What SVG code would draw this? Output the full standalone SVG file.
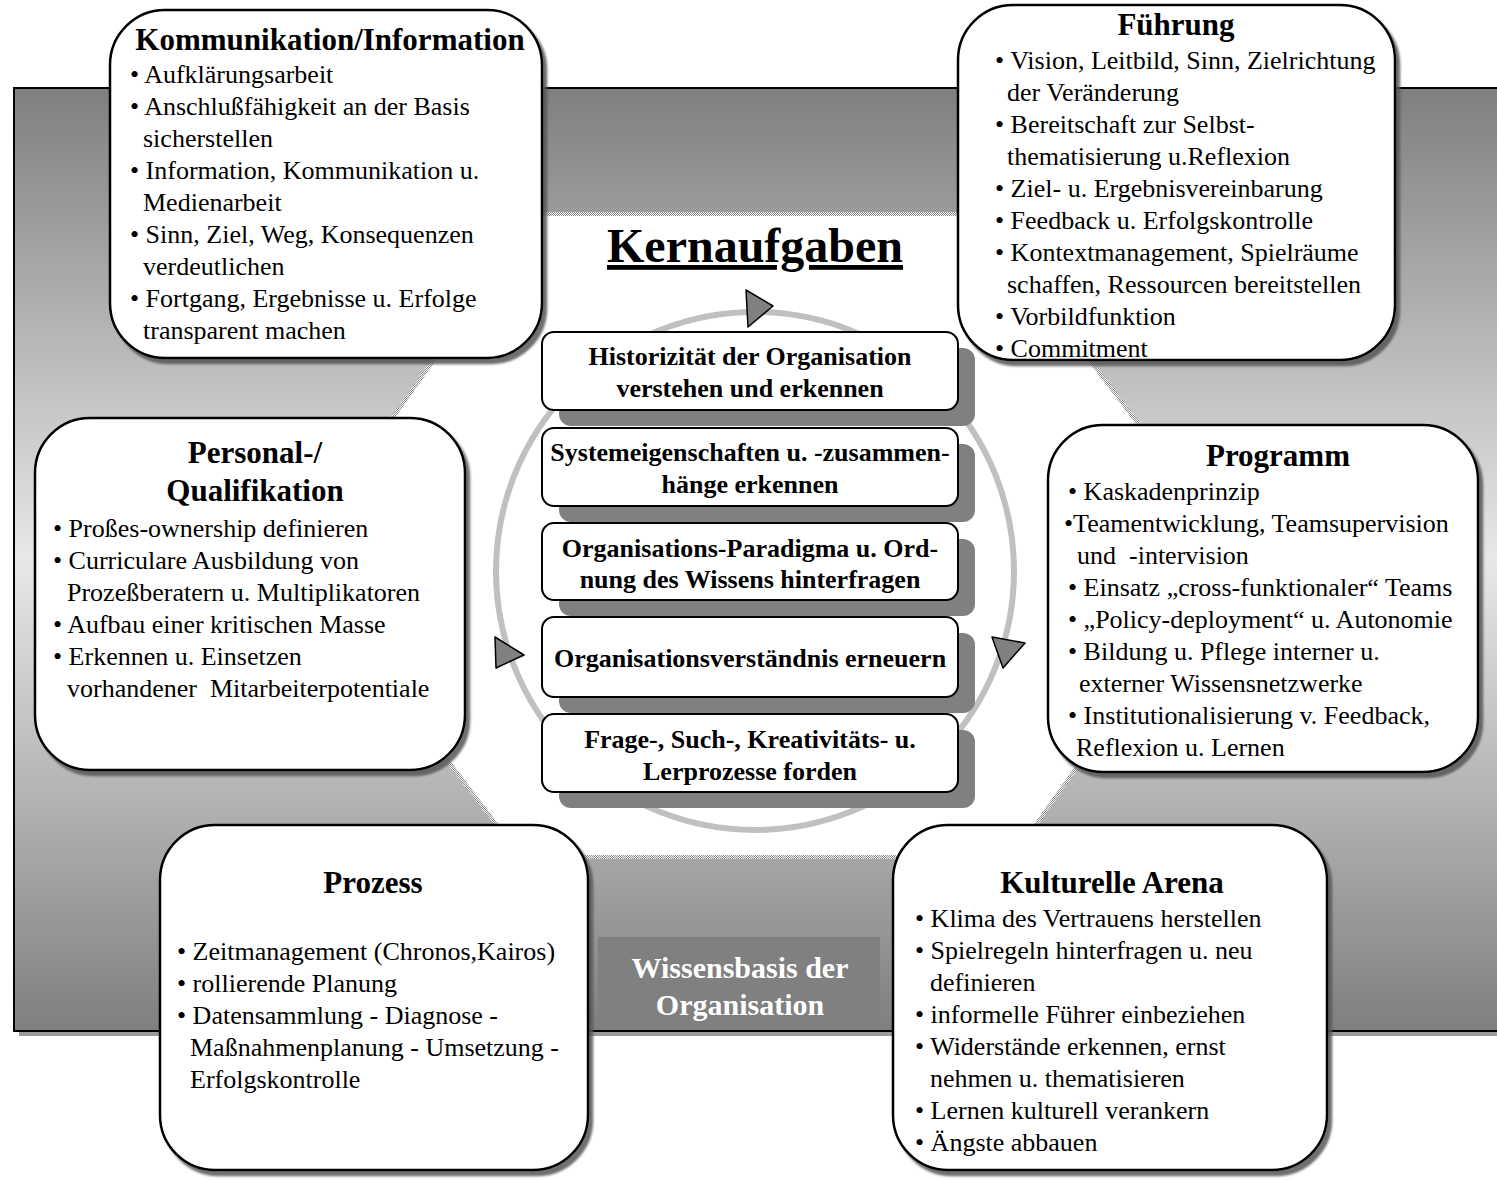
<svg xmlns="http://www.w3.org/2000/svg" width="1497" height="1180" viewBox="0 0 1497 1180">
<defs>
<linearGradient id="bg" x1="0" y1="0" x2="0" y2="1">
<stop offset="0" stop-color="#7f7f7f"/>
<stop offset="0.5" stop-color="#e8e8e8"/>
<stop offset="1" stop-color="#7f7f7f"/>
</linearGradient>
<pattern id="dith" width="2" height="2" patternUnits="userSpaceOnUse">
<rect width="2" height="2" fill="#ffffff"/>
<rect width="1" height="1" fill="#8a8a8a"/>
<rect x="1" y="1" width="1" height="1" fill="#8a8a8a"/>
</pattern>
<filter id="sh" x="-5%" y="-5%" width="115%" height="115%">
<feDropShadow dx="4" dy="5" stdDeviation="1.2" flood-color="#555555" flood-opacity="0.85"/>
</filter>
</defs>
<style>
.box{fill:#ffffff;stroke:#000000;stroke-width:2.5;filter:url(#sh)}
.cbox{fill:#ffffff;stroke:#000000;stroke-width:2}
.cshadow{fill:#808080}
.t{font-family:"Liberation Serif","Times New Roman",serif;font-size:26px;fill:#000000}
.h{font-family:"Liberation Serif","Times New Roman",serif;font-size:31px;font-weight:bold;fill:#000000}
.c{font-family:"Liberation Serif","Times New Roman",serif;font-size:26px;font-weight:bold;fill:#000000;text-anchor:middle}
.tri{fill:#808080;stroke:#000000;stroke-width:1.5;stroke-linejoin:round}
</style>

<g id="background">
<rect x="19" y="93" width="1490" height="943" fill="#9c9c9c"/>
<rect x="14" y="88" width="1490" height="943" fill="url(#bg)" stroke="#000000" stroke-width="2"/>
<polygon points="538,216 978,216 1230,548 1012,855 522,855 296,558" fill="#ffffff" stroke="url(#dith)" stroke-width="8"/>
<polygon points="538,216 978,216 1230,548 1012,855 522,855 296,558" fill="#ffffff"/>
</g>

<g id="wissensbasis">
<rect x="598" y="937" width="282" height="90" fill="#808080"/>
<text x="740" y="978" class="h" style="fill:#ffffff;font-size:30px" text-anchor="middle">Wissensbasis der</text>
<text x="740" y="1015" class="h" style="fill:#ffffff;font-size:30px" text-anchor="middle">Organisation</text>
</g>

<g id="connectors">
<circle cx="755" cy="571" r="259" fill="none" stroke="#c0c0c0" stroke-width="6"/>
<polygon class="tri" points="746,290 773,306 748,327"/>
<polygon class="tri" points="495,637 524,655 496,668"/>
<polygon class="tri" points="992,637 1025,643 1003,668"/>
</g>

<g id="kernaufgaben">
<text x="755" y="262" class="h" style="font-size:48px" text-anchor="middle" text-decoration="underline">Kernaufgaben</text>
</g>

<g id="k1">
<rect class="cshadow" x="559" y="348" width="416" height="78" rx="12"/>
<rect class="cbox" x="542" y="332" width="416" height="78" rx="12"/>
<text class="c" x="750" y="365">Historizität der Organisation</text>
<text class="c" x="750" y="397">verstehen und erkennen</text>
</g>
<g id="k2">
<rect class="cshadow" x="559" y="444" width="416" height="78" rx="12"/>
<rect class="cbox" x="542" y="428" width="416" height="78" rx="12"/>
<text class="c" x="750" y="461">Systemeigenschaften u. -zusammen-</text>
<text class="c" x="750" y="493">hänge erkennen</text>
</g>
<g id="k3">
<rect class="cshadow" x="559" y="539" width="416" height="77" rx="12"/>
<rect class="cbox" x="542" y="523" width="416" height="77" rx="12"/>
<text class="c" x="750" y="557">Organisations-Paradigma u. Ord-</text>
<text class="c" x="750" y="588">nung des Wissens hinterfragen</text>
</g>
<g id="k4">
<rect class="cshadow" x="559" y="633" width="416" height="80" rx="12"/>
<rect class="cbox" x="542" y="617" width="416" height="80" rx="12"/>
<text class="c" x="750" y="667">Organisationsverständnis erneuern</text>
</g>
<g id="k5">
<rect class="cshadow" x="559" y="730" width="416" height="78" rx="12"/>
<rect class="cbox" x="542" y="714" width="416" height="78" rx="12"/>
<text class="c" x="750" y="748">Frage-, Such-, Kreativitäts- u.</text>
<text class="c" x="750" y="780">Lerprozesse forden</text>
</g>

<g id="kommunikation">
<rect class="box" x="110" y="10" width="432" height="348" rx="55"/>
<text class="h" x="330" y="50" text-anchor="middle">Kommunikation/Information</text>
<text class="t" x="130" y="83">• Aufklärungsarbeit</text>
<text class="t" x="130" y="115">• Anschlußfähigkeit an der Basis</text>
<text class="t" x="143" y="147">sicherstellen</text>
<text class="t" x="130" y="179">• Information, Kommunikation u.</text>
<text class="t" x="143" y="211">Medienarbeit</text>
<text class="t" x="130" y="243">• Sinn, Ziel, Weg, Konsequenzen</text>
<text class="t" x="143" y="275">verdeutlichen</text>
<text class="t" x="130" y="307">• Fortgang, Ergebnisse u. Erfolge</text>
<text class="t" x="143" y="339">transparent machen</text>
</g>

<g id="fuehrung">
<rect class="box" x="958" y="5" width="437" height="355" rx="55"/>
<text class="h" x="1176" y="35" text-anchor="middle">Führung</text>
<text class="t" x="995" y="69">• Vision, Leitbild, Sinn, Zielrichtung</text>
<text class="t" x="1007" y="101">der Veränderung</text>
<text class="t" x="995" y="133">• Bereitschaft zur Selbst-</text>
<text class="t" x="1007" y="165">thematisierung u.Reflexion</text>
<text class="t" x="995" y="197">• Ziel- u. Ergebnisvereinbarung</text>
<text class="t" x="995" y="229">• Feedback u. Erfolgskontrolle</text>
<text class="t" x="995" y="261">• Kontextmanagement, Spielräume</text>
<text class="t" x="1007" y="293">schaffen, Ressourcen bereitstellen</text>
<text class="t" x="995" y="325">• Vorbildfunktion</text>
<text class="t" x="995" y="357">• Commitment</text>
</g>

<g id="personal">
<rect class="box" x="35" y="418" width="430" height="352" rx="55"/>
<text class="h" x="255" y="463" text-anchor="middle">Personal-/</text>
<text class="h" x="255" y="501" text-anchor="middle">Qualifikation</text>
<text class="t" x="53" y="537">• Proßes-ownership definieren</text>
<text class="t" x="53" y="569">• Curriculare Ausbildung von</text>
<text class="t" x="67" y="601">Prozeßberatern u. Multiplikatoren</text>
<text class="t" x="53" y="633">• Aufbau einer kritischen Masse</text>
<text class="t" x="53" y="665">• Erkennen u. Einsetzen</text>
<text class="t" x="67" y="697" xml:space="preserve">vorhandener  Mitarbeiterpotentiale</text>
</g>

<g id="programm">
<rect class="box" x="1048" y="425" width="430" height="347" rx="55"/>
<text class="h" x="1278" y="466" text-anchor="middle">Programm</text>
<text class="t" x="1068" y="500">• Kaskadenprinzip</text>
<text class="t" x="1064" y="532">•Teamentwicklung, Teamsupervision</text>
<text class="t" x="1077" y="564" xml:space="preserve">und  -intervision</text>
<text class="t" x="1068" y="596">• Einsatz „cross-funktionaler“ Teams</text>
<text class="t" x="1068" y="628">• „Policy-deployment“ u. Autonomie</text>
<text class="t" x="1068" y="660">• Bildung u. Pflege interner u.</text>
<text class="t" x="1079" y="692">externer Wissensnetzwerke</text>
<text class="t" x="1068" y="724">• Institutionalisierung v. Feedback,</text>
<text class="t" x="1076" y="756">Reflexion u. Lernen</text>
</g>

<g id="prozess">
<rect class="box" x="160" y="825" width="428" height="345" rx="55"/>
<text class="h" x="373" y="893" text-anchor="middle">Prozess</text>
<text class="t" x="177" y="960">• Zeitmanagement (Chronos,Kairos)</text>
<text class="t" x="177" y="992">• rollierende Planung</text>
<text class="t" x="177" y="1024">• Datensammlung - Diagnose -</text>
<text class="t" x="190" y="1056">Maßnahmenplanung - Umsetzung -</text>
<text class="t" x="190" y="1088">Erfolgskontrolle</text>
</g>

<g id="kulturelle">
<rect class="box" x="893" y="825" width="434" height="345" rx="55"/>
<text class="h" x="1112" y="893" text-anchor="middle">Kulturelle Arena</text>
<text class="t" x="915" y="927">• Klima des Vertrauens herstellen</text>
<text class="t" x="915" y="959">• Spielregeln hinterfragen u. neu</text>
<text class="t" x="930" y="991">definieren</text>
<text class="t" x="915" y="1023">• informelle Führer einbeziehen</text>
<text class="t" x="915" y="1055">• Widerstände erkennen, ernst</text>
<text class="t" x="930" y="1087">nehmen u. thematisieren</text>
<text class="t" x="915" y="1119">• Lernen kulturell verankern</text>
<text class="t" x="915" y="1151">• Ängste abbauen</text>
</g>
</svg>
